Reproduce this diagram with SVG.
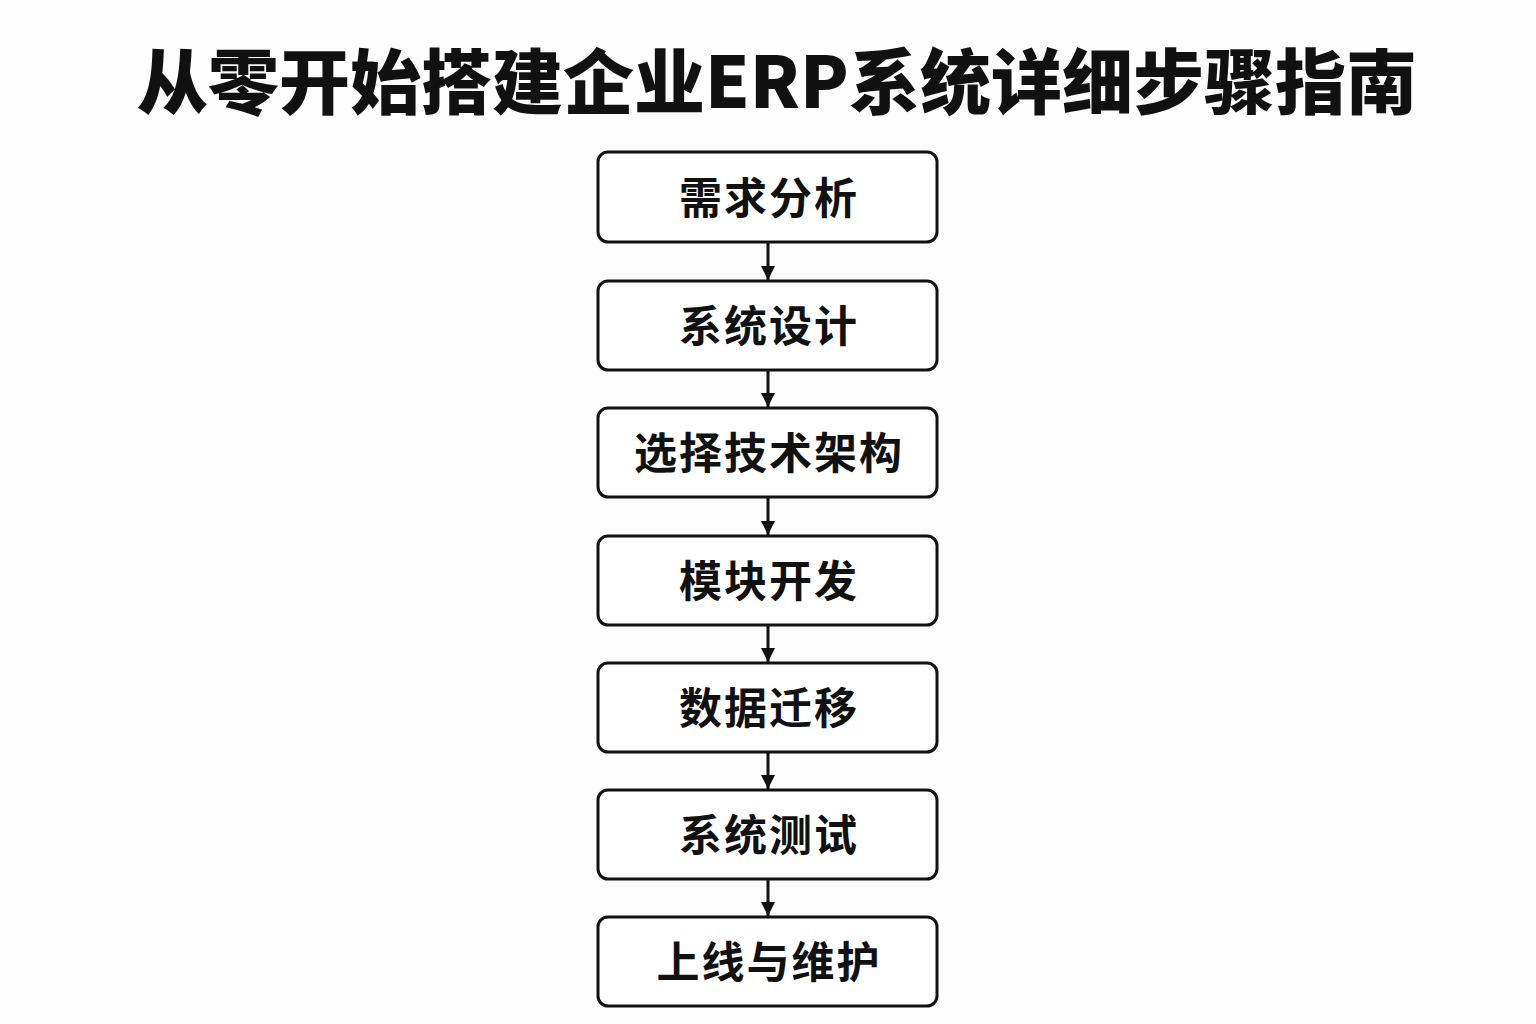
<svg xmlns="http://www.w3.org/2000/svg" width="1536" height="1024" viewBox="0 0 1536 1024">
<style>
.box{fill:#ffffff;stroke:#111111;stroke-width:3}
.lbl{font-family:"Noto Sans CJK SC","Noto Sans",sans-serif;font-weight:700;font-size:43px;fill:#111111;text-anchor:middle;dominant-baseline:central;letter-spacing:2px}
.title{font-family:"Noto Sans CJK SC","Noto Sans",sans-serif;font-weight:900;font-size:71px;fill:#111111;text-anchor:middle}
.conn{stroke:#111111;stroke-width:3;fill:none}
</style>
<defs>
<marker id="arr" viewBox="0 0 10 10" refX="10" refY="5" markerWidth="14" markerHeight="14" markerUnits="userSpaceOnUse" orient="auto">
<path d="M0,0 L10,5 L0,10 Z" fill="#111111"/>
</marker>
</defs>
<rect width="1536" height="1024" fill="#fdfdfd"/>
<text class="title" x="777" y="108">从零开始搭建企业ERP系统详细步骤指南</text>
<g id="connectors">
<line class="conn" x1="768" y1="242" x2="768" y2="280" marker-end="url(#arr)"/>
<line class="conn" x1="768" y1="370" x2="768" y2="407" marker-end="url(#arr)"/>
<line class="conn" x1="768" y1="497" x2="768" y2="535" marker-end="url(#arr)"/>
<line class="conn" x1="768" y1="625" x2="768" y2="662" marker-end="url(#arr)"/>
<line class="conn" x1="768" y1="752" x2="768" y2="789" marker-end="url(#arr)"/>
<line class="conn" x1="768" y1="879" x2="768" y2="916" marker-end="url(#arr)"/>
</g>
<g id="n1"><rect class="box" x="598" y="152" width="339" height="90" rx="10"/><text class="lbl" x="769" y="195">需求分析</text></g>
<g id="n2"><rect class="box" x="598" y="281" width="339" height="89" rx="10"/><text class="lbl" x="769" y="323">系统设计</text></g>
<g id="n3"><rect class="box" x="598" y="408" width="339" height="89" rx="10"/><text class="lbl" x="769" y="450">选择技术架构</text></g>
<g id="n4"><rect class="box" x="598" y="536" width="339" height="89" rx="10"/><text class="lbl" x="769" y="578">模块开发</text></g>
<g id="n5"><rect class="box" x="598" y="663" width="339" height="89" rx="10"/><text class="lbl" x="769" y="705">数据迁移</text></g>
<g id="n6"><rect class="box" x="598" y="790" width="339" height="89" rx="10"/><text class="lbl" x="769" y="832">系统测试</text></g>
<g id="n7"><rect class="box" x="598" y="917" width="339" height="89" rx="10"/><text class="lbl" x="769" y="959">上线与维护</text></g>
</svg>
